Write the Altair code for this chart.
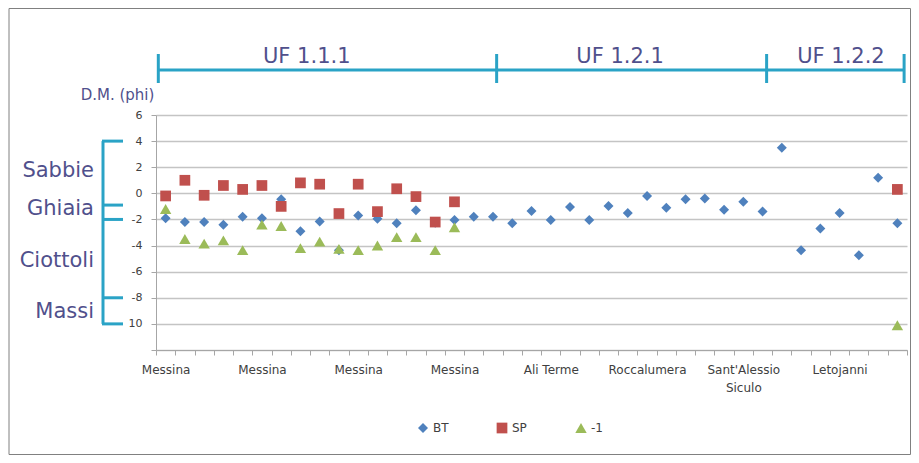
import json
import altair as alt
import pandas as pd

# ---------------- data ----------------
categories = list(range(1, 40))

bt_values = [-1.9, -2.2, -2.2, -2.4, -1.8, -1.9, -0.45, -2.9, -2.15, -4.35,
             -1.7, -1.95, -2.3, -1.3, -2.25, -2.05, -1.8, -1.8, -2.3, -1.35,
             -2.05, -1.05, -2.05, -0.97, -1.5, -0.2, -1.1, -0.45, -0.4, -1.25,
             -0.65, -1.4, 3.5, -4.35, -2.7, -1.5, -4.75, 1.2, -2.3]
sp_values = [-0.2, 1.0, -0.15, 0.6, 0.3, 0.6, -1.0, 0.8, 0.7, -1.55,
             0.7, -1.4, 0.35, -0.25, -2.2, -0.65, None, None, None, None,
             None, None, None, None, None, None, None, None, None, None,
             None, None, None, None, None, None, None, None, 0.3]
m1_values = [-1.2, -3.5, -3.85, -3.6, -4.35, -2.4, -2.5, -4.2, -3.7, -4.25,
             -4.35, -4.0, -3.35, -3.35, -4.35, -2.6, None, None, None, None,
             None, None, None, None, None, None, None, None, None, None,
             None, None, None, None, None, None, None, None, -10.1]

series_names = ["BT", "SP", "-1"]
series_colors = ["#4f81bd", "#c0504d", "#9bbb59"]
series_shapes = ["diamond", "square", "triangle-up"]
series_sizes = [100, 130, 100]

label_positions = [1, 6, 11, 16, 21, 26, 31, 36]
label_texts = ["Messina", "Messina", "Messina", "Messina", "Ali Terme",
               "Roccalumera", ["Sant'Alessio", "Siculo"], "Letojanni"]

y_ticks = [-12, -10, -8, -6, -4, -2, 0, 2, 4, 6]

uf_names = ["UF 1.1.1", "UF 1.2.1", "UF 1.2.2"]
uf_label_x = [8.33, 24.6, 36.07]
uf_bounds = [0.62, 18.19, 32.21, 39.35]

grain_names = ["Sabbie", "Ghiaia", "Ciottoli", "Massi"]
grain_label_y = [1.7, -1.23, -5.2, -9.1]
grain_bounds = [4, -0.9, -2, -8, -10]

# ---------------- build ----------------
rows = []
for name, vals in zip(series_names, [bt_values, sp_values, m1_values]):
    for c, v in zip(categories, vals):
        if v is not None:
            rows.append({"cat": c, "value": v, "series": name})
points_df = pd.DataFrame(rows)

W, H = 751, 235
TEXT_BLUE = "#50508c"
BRACKET = "#2aa3c6"

x_scale = alt.Scale(domain=[0.5, 39.5], nice=False, zero=False)
y_scale = alt.Scale(domain=[-12, 6], nice=False, zero=False)

tick_vals = [i + 0.5 for i in range(0, 40)]
expr = "''"
for pos, txt in reversed(list(zip(label_positions, label_texts))):
    expr = f"datum.value == {pos - 0.5} ? {json.dumps(txt)} : ({expr})"

y_expr = "datum.value == -12 ? '' : (datum.value == -10 ? '10' : toString(datum.value))"

x_axis = alt.Axis(values=tick_vals, labelExpr=expr, grid=False, title=None,
                  labelOffset=9.63, labelFlush=False, labelOverlap=False,
                  labelBound=False, tickSize=5, labelPadding=9,
                  labelFontSize=12, labelColor="#404040",
                  labelFont="DejaVu Sans", labelLineHeight=18,
                  labelBaseline="top",
                  domainColor="#a6a6a6", tickColor="#a6a6a6")
y_axis = alt.Axis(values=y_ticks, labelExpr=y_expr, grid=True, title=None,
                  gridColor="#c4c4c4", gridWidth=1.3, tickSize=5,
                  labelPadding=9, labelFontSize=11, labelColor="#404040",
                  labelFont="DejaVu Sans",
                  domainColor="#a6a6a6", tickColor="#a6a6a6")

legend = alt.Legend(orient="none", legendX=261, legendY=307, direction="horizontal",
                    title=None, labelFontSize=12, labelColor="#404040",
                    labelFont="DejaVu Sans", symbolSize=70, symbolStrokeWidth=0,
                    columnPadding=47, gridAlign="all", padding=0, labelOffset=4)

points = alt.Chart(points_df).mark_point(filled=True, opacity=1).encode(
    x=alt.X("cat:Q", scale=x_scale, axis=x_axis),
    y=alt.Y("value:Q", scale=y_scale, axis=y_axis),
    color=alt.Color("series:N", scale=alt.Scale(domain=series_names, range=series_colors),
                    legend=legend),
    shape=alt.Shape("series:N", scale=alt.Scale(domain=series_names, range=series_shapes),
                    legend=legend),
    size=alt.Size("series:N", scale=alt.Scale(domain=series_names, range=series_sizes),
                  legend=None),
    order=alt.Order("order:Q"),
).transform_calculate(
    order=f"indexof({json.dumps(series_names)}, datum.series)"
)

# UF brackets (top)
uf_line = alt.Chart(pd.DataFrame({"a": [uf_bounds[0]], "b": [uf_bounds[-1]]})).mark_rule(
    color=BRACKET, strokeWidth=3).encode(
    x=alt.X("a:Q", scale=x_scale, axis=x_axis), x2="b:Q", y=alt.value(-45))
uf_ticks = alt.Chart(pd.DataFrame({"b": uf_bounds})).mark_rule(
    color=BRACKET, strokeWidth=3).encode(
    x=alt.X("b:Q", scale=x_scale, axis=x_axis), y=alt.value(-61), y2=alt.value(-32))
uf_text = alt.Chart(pd.DataFrame({"x": uf_label_x, "t": uf_names})).mark_text(
    fontSize=21, font="DejaVu Sans", color=TEXT_BLUE, baseline="middle").encode(
    x=alt.X("x:Q", scale=x_scale, axis=x_axis), y=alt.value(-58), text="t:N")

# grain-size bracket (left)
g_vert = alt.Chart(pd.DataFrame({"a": [grain_bounds[0]], "b": [grain_bounds[-1]]})).mark_rule(
    color=BRACKET, strokeWidth=3).encode(
    y=alt.Y("a:Q", scale=y_scale, axis=y_axis), y2="b:Q", x=alt.value(-53))
g_ticks = alt.Chart(pd.DataFrame({"b": grain_bounds})).mark_rule(
    color=BRACKET, strokeWidth=3).encode(
    y=alt.Y("b:Q", scale=y_scale, axis=y_axis), x=alt.value(-54), x2=alt.value(-33))
g_text = alt.Chart(pd.DataFrame({"y": grain_label_y, "t": grain_names})).mark_text(
    fontSize=21, font="DejaVu Sans", color=TEXT_BLUE, align="right", baseline="middle").encode(
    y=alt.Y("y:Q", scale=y_scale, axis=y_axis), x=alt.value(-62), text="t:N")

y_title = alt.Chart(pd.DataFrame({"t": ["D.M. (phi)"]})).mark_text(
    fontSize=15, font="DejaVu Sans", color=TEXT_BLUE, baseline="middle").encode(
    x=alt.value(-38.5), y=alt.value(-20), text="t:N")

frame = alt.Chart(pd.DataFrame({"a": [0]})).mark_rect(
    fillOpacity=0, stroke="#808080", strokeWidth=1).encode(
    x=alt.value(-147), x2=alt.value(754.5), y=alt.value(-106.5), y2=alt.value(339.5))

chart = alt.layer(points, uf_line, uf_ticks, uf_text, g_vert, g_ticks, g_text, y_title, frame).properties(
    width=W, height=H,
    autosize=alt.AutoSizeParams(type="none"),
    padding={"left": 148, "top": 107, "right": 4, "bottom": 105},
    background="white",
).configure_view(strokeWidth=0)

chart.save("out.html", embed_options={"renderer": "svg", "actions": False})
